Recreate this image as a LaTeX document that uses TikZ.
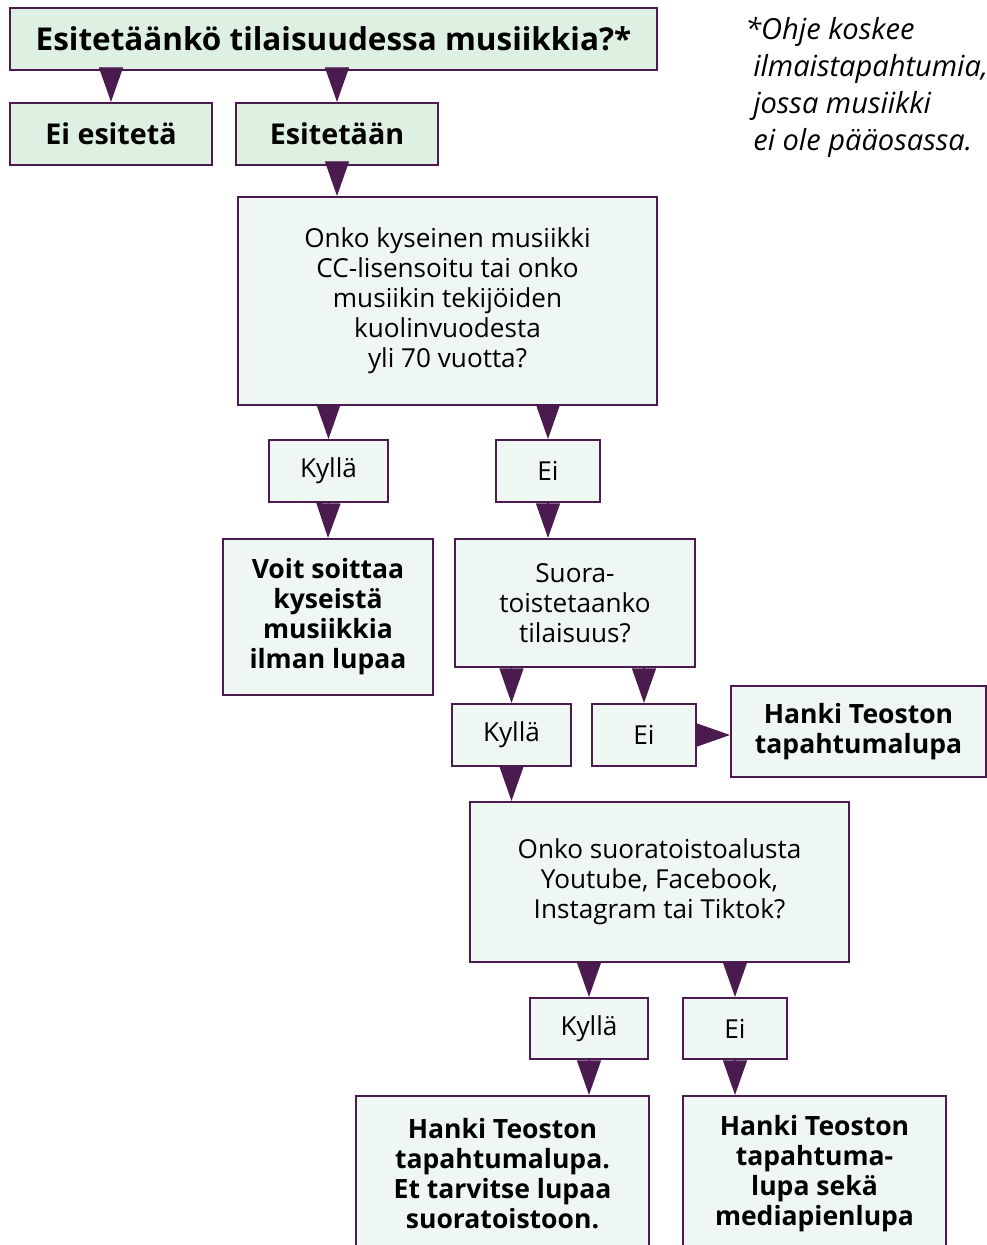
\documentclass[tikz,border=0pt]{standalone}
\usepackage{fontspec}
\setmainfont{Open Sans}
\usepackage{xcolor}
\usetikzlibrary{arrows.meta}

\definecolor{lineC}{HTML}{4B1A4F}
\definecolor{boxD}{HTML}{DEF0E2}
\definecolor{boxL}{HTML}{EEF7F1}

\newcommand{\qfont}{\fontsize{19.6pt}{22.5pt}\selectfont}
\newcommand{\afont}{\bfseries\fontsize{19.9pt}{22.5pt}\selectfont}
\newcommand{\tfont}{\bfseries\fontsize{21.5pt}{24pt}\selectfont}

\tikzset{
  box/.style={draw=lineC, line width=1.5pt, fill=boxL, align=center, inner sep=0pt},
  topbox/.style={box, fill=boxD, font=\tfont},
  flow/.style={-{Triangle[length=26pt,width=18pt]}, lineC, line width=1pt}
}

\begin{document}
\begin{tikzpicture}[x=0.75pt,y=-0.75pt]
\clip (0,0) rectangle (987,1245);

% first question and its answers
\node[topbox, font=\bfseries\fontsize{23.6pt}{26pt}\selectfont, minimum width=647*0.75pt, minimum height=62*0.75pt] (title) at (333.5,39) {Esitetäänkö tilaisuudessa musiikkia?*};
\node[topbox, minimum width=202*0.75pt, minimum height=62*0.75pt] (eiesit) at (111,134) {Ei esitetä};
\node[topbox, minimum width=202*0.75pt, minimum height=62*0.75pt] (esit) at (337,134) {Esitetään};

% note
\node[anchor=north west, align=left, font=\itshape\fontsize{21.8pt}{27.75pt}\selectfont, inner sep=0pt] (note) at (745,17)
  {*Ohje koskee\\\hspace{6pt}ilmaistapahtumia,\\\hspace{6pt}jossa musiikki\\\hspace{6pt}ei ole pääosassa.};

% licence question
\node[box, font=\qfont, minimum width=419*0.75pt, minimum height=208*0.75pt] (q1) at (447.5,301)
  {Onko kyseinen musiikki\\CC-lisensoitu tai onko\\musiikin tekijöiden\\kuolinvuodesta\\yli 70 vuotta?};
\node[box, font=\qfont, minimum width=119*0.75pt, minimum height=62*0.75pt] (kyl1) at (328.5,471) {Kyllä};
\node[box, font=\qfont, minimum width=104*0.75pt, minimum height=62*0.75pt] (ei1) at (548,471) {Ei};
\node[box, font=\afont, minimum width=210*0.75pt, minimum height=156*0.75pt] (voit) at (328,617)
  {Voit soittaa\\kyseistä\\musiikkia\\ilman lupaa};

% streaming question
\node[box, font=\qfont, minimum width=240*0.75pt, minimum height=128*0.75pt] (q2) at (575,603)
  {Suora-\\toistetaanko\\tilaisuus?};
\node[box, font=\qfont, minimum width=119*0.75pt, minimum height=62*0.75pt] (kyl2) at (511.5,735) {Kyllä};
\node[box, font=\qfont, minimum width=104*0.75pt, minimum height=62*0.75pt] (ei2) at (644,735) {Ei};
\node[box, font=\afont, minimum width=255*0.75pt, minimum height=91*0.75pt] (hanki1) at (858.5,731.5)
  {Hanki Teoston\\tapahtumalupa};

% platform question
\node[box, font=\qfont, minimum width=379*0.75pt, minimum height=160*0.75pt] (q3) at (659.5,882)
  {Onko suoratoistoalusta\\Youtube, Facebook,\\Instagram tai Tiktok?};
\node[box, font=\qfont, minimum width=118*0.75pt, minimum height=61*0.75pt] (kyl3) at (589,1028.5) {Kyllä};
\node[box, font=\qfont, minimum width=104*0.75pt, minimum height=61*0.75pt] (ei3) at (735,1028.5) {Ei};
\node[box, font=\afont, minimum width=293*0.75pt, minimum height=156*0.75pt] (fin1) at (502.5,1174)
  {Hanki Teoston\\tapahtumalupa.\\Et tarvitse lupaa\\suoratoistoon.};
\node[box, font=\afont, minimum width=263*0.75pt, minimum height=156*0.75pt] (fin2) at (814.5,1174)
  {Hanki Teoston\\tapahtuma-\\lupa sekä\\mediapienlupa};

% arrows
\draw[flow] (eiesit.north |- title.south) -- (eiesit.north);
\draw[flow] (esit.north |- title.south) -- (esit.north);
\draw[flow] (esit.south) -- (esit.south |- q1.north);
\draw[flow] (kyl1.north |- q1.south) -- (kyl1.north);
\draw[flow] (ei1.north |- q1.south) -- (ei1.north);
\draw[flow] (kyl1.south) -- (voit.north);
\draw[flow] (ei1.south) -- (ei1.south |- q2.north);
\draw[flow] (kyl2.north |- q2.south) -- (kyl2.north);
\draw[flow] (ei2.north |- q2.south) -- (ei2.north);
\draw[flow] (ei2.east) -- (ei2.east -| hanki1.west);
\draw[flow] (kyl2.south) -- (kyl2.south |- q3.north);
\draw[flow] (kyl3.north |- q3.south) -- (kyl3.north);
\draw[flow] (ei3.north |- q3.south) -- (ei3.north);
\draw[flow] (kyl3.south) -- (kyl3.south |- fin1.north);
\draw[flow] (ei3.south) -- (ei3.south |- fin2.north);
\end{tikzpicture}
\end{document}
